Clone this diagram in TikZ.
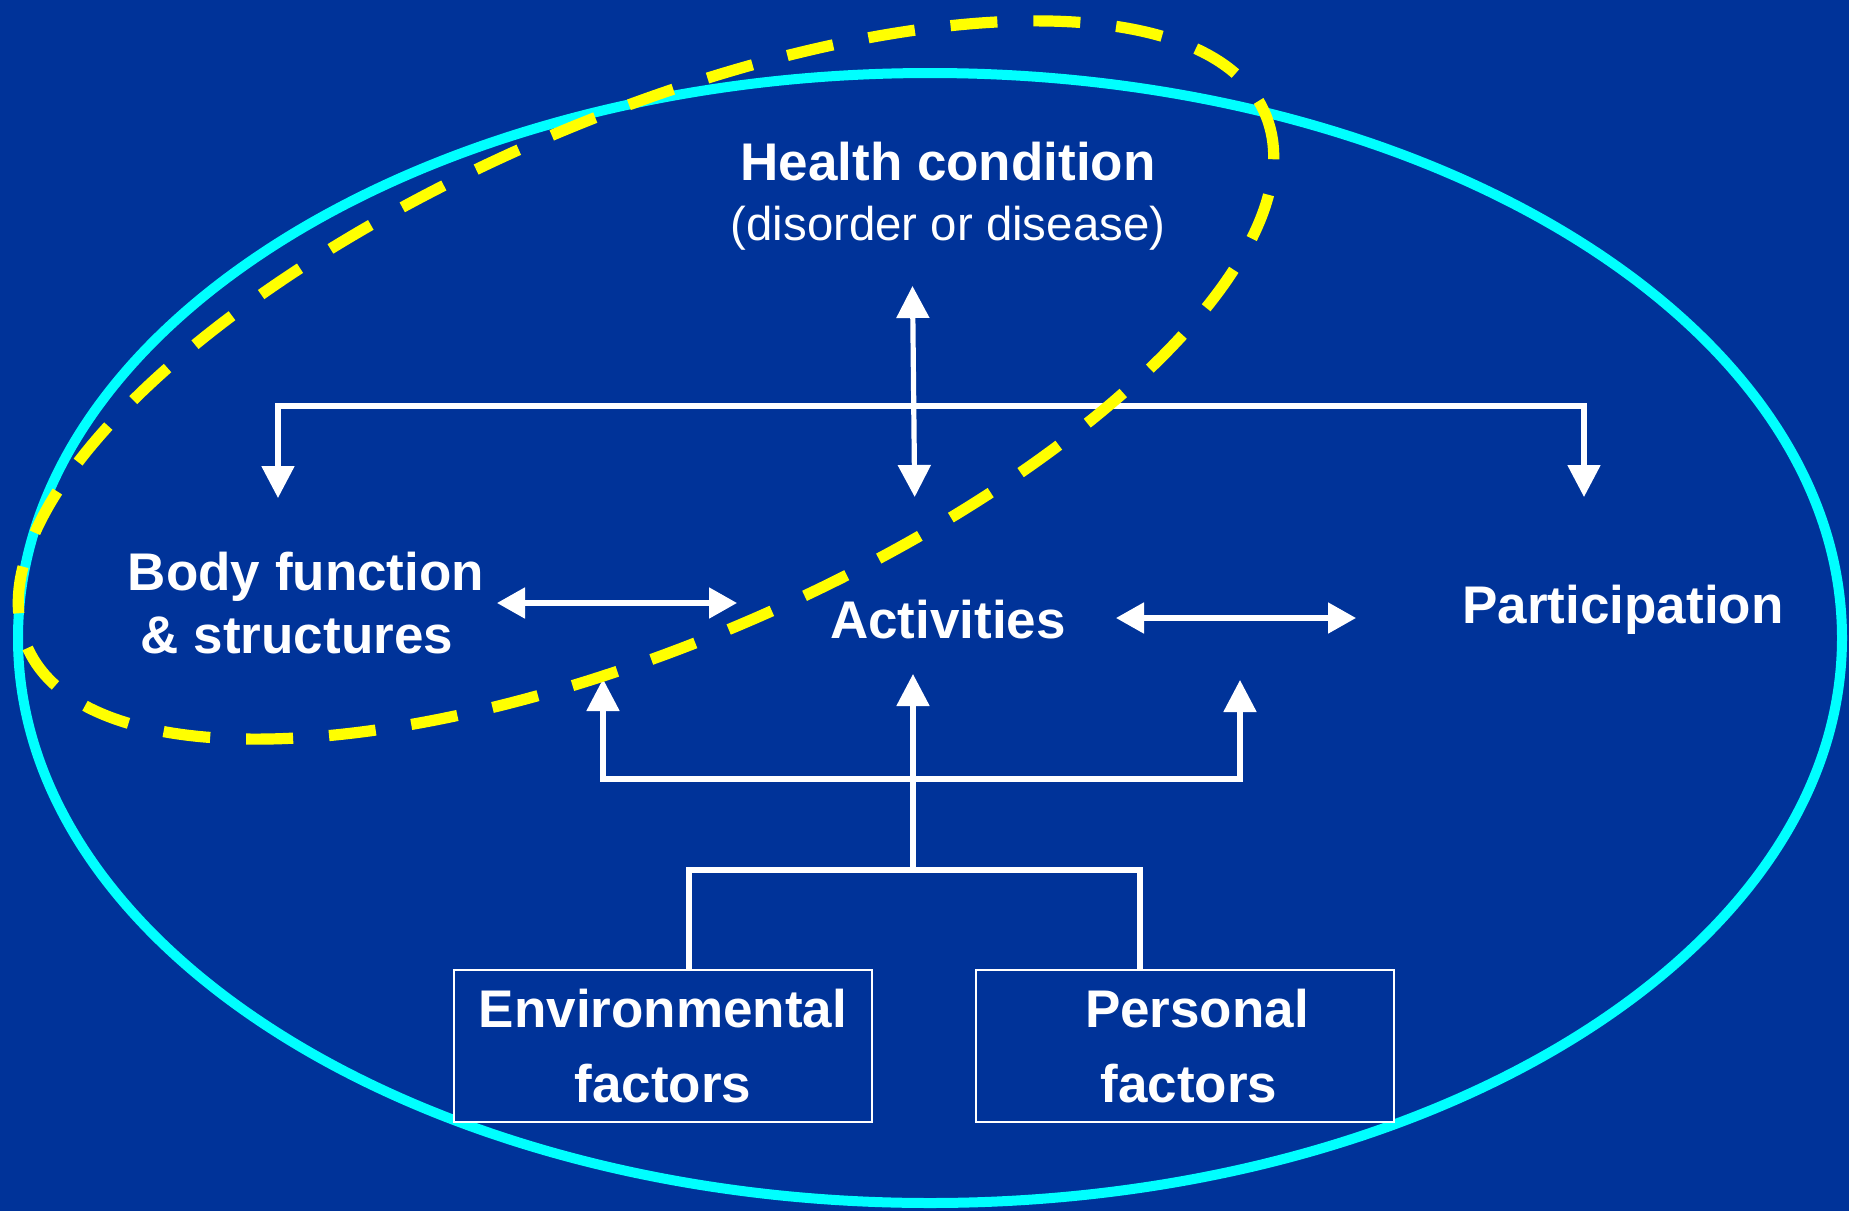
\documentclass[tikz,border=0pt]{standalone}
\usepackage{fontspec}
\setmainfont{Liberation Sans}
\usetikzlibrary{arrows.meta}
\definecolor{bgblue}{RGB}{0,51,153}
\definecolor{ringcyan}{RGB}{0,255,255}
\definecolor{dashyellow}{RGB}{255,255,0}
\tikzset{
  vhead/.tip={Triangle[width=16pt,length=16pt]},
  hhead/.tip={Triangle[width=15pt,length=14pt]},
  conn/.style={draw=white, line width=2.6pt},
  lbl/.style={text=white, inner sep=0pt, font=\fontsize{26.5pt}{31.5pt}\selectfont\bfseries},
  factorbox/.style={draw=white, fill=bgblue, line width=1.2pt, text=white, inner sep=0pt,
    minimum width=209pt, minimum height=76pt, align=center,
    font=\fontsize{26.5pt}{37.5pt}\selectfont\bfseries},
  ring/.style={draw=ringcyan, line width=5pt},
  focus/.style={draw=dashyellow, line width=5.6pt, dash pattern=on 23.5pt off 18pt}
}
\begin{document}
\begin{tikzpicture}[x=0.5pt,y=-0.5pt]
\fill[bgblue] (0,0) rectangle (1849,1211);
\useasboundingbox (0,0) rectangle (1849,1211);

% outer ring
\draw[ring] (930,638) ellipse [x radius=912, y radius=565];

% nodes (base anchor = baseline of the last line)
\node[lbl, anchor=base, align=center, font=\fontsize{26.5pt}{30pt}\selectfont\bfseries] (hc) at (948,240)
  {Health condition\\{\mdseries\fontsize{23.7pt}{30pt}\selectfont (disorder or disease)}};
\node[lbl, anchor=base, align=center] (bf) at (302,653)
  {\hspace*{4pt}Body function\\\&\ structures\hspace*{5pt}};
\node[lbl, anchor=base] (act) at (948,638) {Activities};
\node[lbl, anchor=base] (part) at (1623,623) {Participation};
\node[factorbox] (env) at (663,1046) {Environmental\\factors};
\node[factorbox] (pers) at (1185,1046) {\hspace*{12pt}Personal\\\hspace*{4pt}factors};

% connector end points
\coordinate (hc-s) at (912.5,286);
\coordinate (act-n) at (914.7,497);
\coordinate (bf-n) at (278,498);
\coordinate (part-n) at (1584,497);
\coordinate (hubtop) at (913,406);
\coordinate (bf-e) at (497,603);
\coordinate (act-w) at (737,603);
\coordinate (act-e) at (1116,618);
\coordinate (part-w) at (1356,618);
\coordinate (bf-se) at (603,679);
\coordinate (act-s) at (913,674);
\coordinate (part-sw) at (1240,680);
\coordinate (hubmid) at (913,779);
\coordinate (hublow) at (913,870);
\coordinate (envx) at (689,0);
\coordinate (persx) at (1140,0);

% connectors
\draw[conn, vhead-vhead] (hc-s) -- (act-n);
\draw[conn, vhead-vhead] (bf-n) |- (hubtop) -| (part-n);
\draw[conn, hhead-hhead] (bf-e) -- (act-w);
\draw[conn, hhead-hhead] (act-e) -- (part-w);
\draw[conn, vhead-vhead] (bf-se) |- (hubmid) -| (part-sw);
\draw[conn, -vhead] (hublow) -- (act-s);
\draw[conn] (env.north -| envx) |- (hublow) -| (pers.north -| persx);

% dashed focus ellipse
\draw[focus, rotate around={23.3:(646,380)}] (646,380) ellipse [x radius=674, y radius=262];
\end{tikzpicture}
\end{document}
